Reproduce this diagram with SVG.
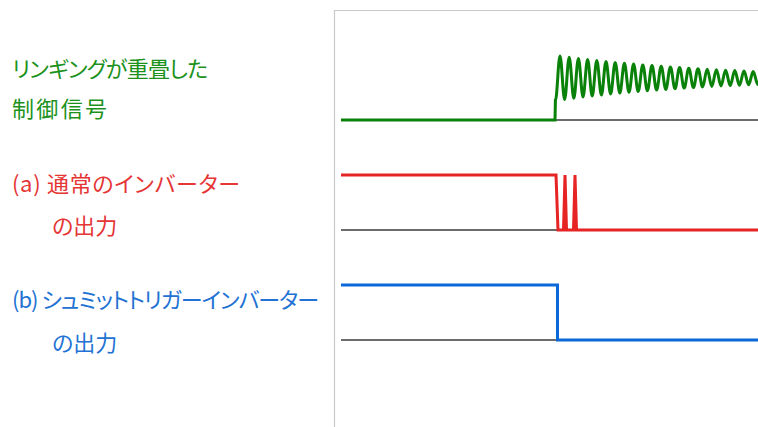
<svg xmlns="http://www.w3.org/2000/svg" width="758" height="427" viewBox="0 0 758 427">
<style>
text{font-family:"Noto Sans CJK JP","Noto Sans",sans-serif;font-size:22px;font-feature-settings:"palt" 1}
.g{fill:#1c921c}.r{fill:#e53535}.b{fill:#2272d4}
.base{stroke:#3a3a3a;stroke-width:1.6;fill:none}
.wave{fill:none;stroke-width:3;stroke-linejoin:miter}
.frame{stroke:#c8c8c8;stroke-width:1.2;fill:none}
</style>
<rect width="758" height="427" fill="#fff"/>
<path class="frame" d="M334.5,427 V10.5 H758"/>
<g id="labels">
<g id="label-ringing">
<text class="g" x="12" y="77" textLength="196" lengthAdjust="spacing">リンギングが重畳した</text>
<text class="g" x="12" y="117" font-size="24" textLength="95" lengthAdjust="spacing">制御信号</text>
</g>
<g id="label-a">
<text class="r" x="12" y="192" textLength="228" lengthAdjust="spacing">(a) 通常のインバーター</text>
<text class="r" x="52" y="234" font-size="23">の出力</text>
</g>
<g id="label-b">
<text class="b" x="12" y="308" textLength="307" lengthAdjust="spacing">(b) シュミットトリガーインバーター</text>
<text class="b" x="52" y="351" font-size="23">の出力</text>
</g>
</g>
<g id="connectors">
<path class="base" d="M341,120 H758"/>
<path class="base" d="M341,230 H758"/>
<path class="base" d="M341,340 H758"/>
</g>
<g id="signal-ringing">
<path class="wave" stroke="#0a820a" stroke-width="3.4" d="M341,120 H555 L555.4,100.6 C557.1,100.6 558.3,56 560,56 S562.9,99.4 564.6,99.4 S567.5,57.2 569.2,57.2 S572.1,98.2 573.8,98.2 S576.7,58.4 578.4,58.4 S581.3,97 583,97 S585.9,59.5 587.6,59.5 S590.5,96 592.2,96 S595.1,60.5 596.8,60.5 S599.7,95 601.4,95 S604.3,61.5 606,61.5 S608.9,94 610.6,94 S613.5,62.4 615.2,62.4 S618.1,93.1 619.8,93.1 S622.7,63.3 624.4,63.3 S627.3,92.3 629,92.3 S631.9,64.1 633.6,64.1 S636.5,91.5 638.2,91.5 S641.1,64.9 642.8,64.9 S645.7,90.7 647.4,90.7 S650.3,65.6 652,65.6 S654.9,90 656.6,90 S659.5,66.3 661.2,66.3 S664.1,89.4 665.8,89.4 S668.7,67 670.4,67 S673.3,88.7 675,88.7 S677.9,67.6 679.6,67.6 S682.5,88.1 684.2,88.1 S687.1,68.2 688.8,68.2 S691.7,87.6 693.4,87.6 S696.3,68.7 698,68.7 S700.9,87 702.6,87 S705.5,69.2 707.2,69.2 S710.1,86.5 711.8,86.5 S714.7,69.7 716.4,69.7 S719.3,86 721,86 S723.9,70.2 725.6,70.2 S728.5,85.6 730.2,85.6 S733.1,70.6 734.8,70.6 S737.7,85.2 739.4,85.2 S742.3,71 744,71 S746.9,84.8 748.6,84.8 S751.5,71.4 753.2,71.4 S756.1,84.4 757.8,84.4 S760.7,71.8 762.4,71.8"/>
</g>
<g id="signal-a">
<path class="wave" stroke="#e62424" d="M341,175 H556 L558,230 H563.5 L565,175 L566.5,230 H573.5 L575,175 L576.5,230 H758"/>
</g>
<g id="signal-b">
<path class="wave" stroke="#0b68d8" d="M341,285 H557.5 V340 H758"/>
</g>
</svg>
